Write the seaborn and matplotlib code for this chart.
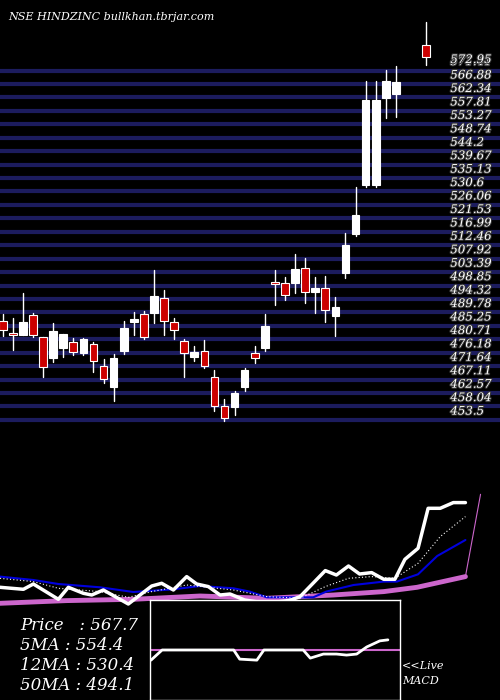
import matplotlib
matplotlib.use("Agg")
import matplotlib.pyplot as plt
import seaborn as sns
import numpy as np
import pandas as pd
from matplotlib.patches import Rectangle
import matplotlib.patheffects as pe

# ---- data ----
idx = list(range(40)) + [42]
opens = [487.0,482.7,482.0,488.9,481.4,474.5,477.7,479.7,476.2,479.0,471.8,464.7,476.8,486.7,489.2,489.7,494.8,486.7,480.2,474.9,476.8,467.9,458.2,457.8,464.7,476.0,477.9,500.0,499.6,499.8,504.7,496.8,497.9,488.7,503.2,516.3,532.8,532.8,562.0,563.5,580.0]
closes = [483.9,482.2,486.6,482.0,471.3,483.5,482.4,476.3,480.7,473.4,467.2,474.3,484.4,487.5,481.6,495.3,487.0,483.9,476.0,476.3,471.8,458.2,454.1,462.5,470.4,474.3,485.2,499.4,495.7,504.3,496.6,497.9,490.6,491.7,512.5,522.7,561.5,561.5,567.9,567.4,575.9]
highs = [489.3,487.8,496.2,489.5,481.4,486.3,482.4,481.1,481.1,479.9,474.1,475.7,486.9,489.8,490.1,504.1,497.4,487.8,480.7,478.5,480.5,470.4,460.6,463.3,470.9,478.5,489.3,504.1,501.9,509.5,508.0,501.9,502.1,495.1,516.5,532.0,567.7,567.7,571.6,572.9,587.9]
lows = [481.8,477.1,482.0,481.6,468.1,473.2,474.6,475.4,475.4,469.8,465.9,460.0,475.8,482.2,480.8,486.3,482.2,480.8,468.1,473.5,470.9,456.6,453.3,455.2,463.1,472.6,476.6,492.3,494.0,496.5,493.1,489.6,486.7,481.8,501.3,515.6,532.2,532.2,555.5,555.8,573.3]
level_labels = ["453.5","458.04","462.57","467.11","471.64","476.18","480.71","485.25","489.78","494.32","498.85","503.39","507.92","512.46","516.99","521.53","526.06","530.6","535.13","539.67","544.2","548.74","553.27","557.81","562.34","566.88","571.41"]
top_label = "572.95"

w_x = [-0.27,2.05,3.04,5.52,6.51,8.0,8.83,9.98,12.46,14.78,15.77,16.93,18.25,19.24,20.4,21.56,22.55,24.0,26.2,28.5,29.5,32.0,33.1,34.3,35.4,36.6,37.8,38.9,39.9,41.2,42.2,43.4,44.7,45.9]
w_v = [26,24,29.3,14,26,20,18.3,23.3,9.3,27.3,30,23.3,36.7,29.3,26.7,18.3,19.3,13.3,10,13,16.7,42.7,38.3,47.3,39.3,40.7,34,34,54,65,105,105,110.7,110.7]
d_x = [-0.27,3.04,5.52,9.65,12.46,14.78,18.25,22.88,26.2,29.5,32.0,34.3,36.6,38.9,41.2,43.4,45.9]
d_v = [35,31.7,25,21.7,16,21.7,28.3,23.3,16.7,15,26.7,35,36.7,35,50,76.7,96.7]
b_x = [-0.27,3.04,5.52,9.65,12.96,16.93,19.57,22.88,24.5,26.2,30.8,32.1,34.8,37.8,39.1,41.2,43.1,45.9]
b_v = [36.7,33.3,29.3,26,21.3,24,27.3,25,21.7,16,16,21.7,28.3,31.7,31.7,39,57.3,73.3]
m_x = [-0.27,6.35,12.96,19.57,26.2,32.8,37.8,41.1,45.9]
m_v = [10,12.7,14,17.3,15,18.3,21.7,26,36.7]
m_ext_x = [45.9,47.4]
m_ext_v = [36.7,119]
macd_x = [14.7,15.8,22.9,23.5,25.2,25.9,29.8,30.5,31.8,33.1,34.1,35.1,36.1,37.4,38.2]
macd_v = [-1,0,0,-0.9,-1,0,0,-0.8,-0.4,-0.4,-0.5,-0.4,0.3,0.9,1.0]

sns.set_style("dark")
plt.rcParams["font.family"] = ["DejaVu Serif"]

fig = plt.figure(figsize=(5, 7), dpi=100, facecolor="black")
XL = (-0.27, 49.33)

# price axes (full figure)
ax = fig.add_axes([0, 0, 1, 1])
ax.set_facecolor("black")
ax.set_xlim(*XL); ax.set_ylim(359.0, 595.2)
ax.axis("off")
levels = [float(s) for s in level_labels]
for lv in levels:
    ax.axhline(lv, color="#1c1c5e", lw=3, zorder=1)
outline = [pe.withStroke(linewidth=1.5, foreground="#333333")]
for lv, s in zip(levels, level_labels):
    ax.text(44.4, lv + 0.8, s, color="white", fontsize=8.5, style="italic", va="bottom", zorder=2, path_effects=outline)
ax.text(44.4, levels[-1] + 1.5, top_label, color="white", fontsize=8.5, style="italic", va="bottom", zorder=2, path_effects=outline)

df = pd.DataFrame(dict(i=idx, o=opens, c=closes, h=highs, l=lows))
for r in df.itertuples():
    ax.plot([r.i, r.i], [r.l, r.h], color="white", lw=1, zorder=3)
    up = r.c >= r.o
    lo, hi = min(r.o, r.c), max(r.o, r.c)
    ax.add_patch(Rectangle((r.i - 0.38, lo), 0.76, max(hi - lo, 0.5),
                           facecolor="white" if up else "#cc0000", edgecolor="white", lw=0.8, zorder=4))
ax.text(0.5, 589.5, "NSE HINDZINC bullkhan.tbrjar.com", color="white", fontsize=8, style="italic", va="center")

# indicator axes
ia = fig.add_axes([0, 0, 1, 220 / 700])
ia.set_facecolor("none")
ia.set_xlim(*XL); ia.set_ylim(-86.7, 133.3)
ia.axis("off")
sns.lineplot(x=m_x, y=m_v, ax=ia, color="#cc66cc", lw=3.5)
sns.lineplot(x=m_ext_x, y=m_ext_v, ax=ia, color="#cc66cc", lw=0.8)
sns.lineplot(x=b_x, y=b_v, ax=ia, color="#0000dd", lw=1.5)
sns.lineplot(x=d_x, y=d_v, ax=ia, color="white", lw=0.8, linestyle=(0, (1, 2)))
sns.lineplot(x=w_x, y=w_v, ax=ia, color="white", lw=2.5)

# MACD inset
ma = fig.add_axes([150 / 500, 0, 250 / 500, 100 / 700])
ma.set_facecolor("black")
ma.set_xlim(14.6, 39.4); ma.set_ylim(-4.93, 4.93)
ma.set_xticks([]); ma.set_yticks([])
for s in ma.spines.values():
    s.set_color("white"); s.set_linewidth(1); s.set_visible(True)
ma.axhline(0, color="#cc66cc", lw=1.5)
sns.lineplot(x=macd_x, y=macd_v, ax=ma, color="white", lw=2)

fig.text(20 / 500, 1 - 625 / 700, "Price   : 567.7", color="white", fontsize=12, style="italic", va="center")
fig.text(20 / 500, 1 - 645 / 700, "5MA : 554.4", color="white", fontsize=12, style="italic", va="center")
fig.text(20 / 500, 1 - 665 / 700, "12MA : 530.4", color="white", fontsize=12, style="italic", va="center")
fig.text(20 / 500, 1 - 685 / 700, "50MA : 494.1", color="white", fontsize=12, style="italic", va="center")
fig.text(402 / 500, 1 - 666 / 700, "<<Live", color="white", fontsize=8, style="italic", va="center")
fig.text(402 / 500, 1 - 681 / 700, "MACD", color="white", fontsize=8, style="italic", va="center")

fig.savefig("out.png", dpi=100, facecolor="black")
